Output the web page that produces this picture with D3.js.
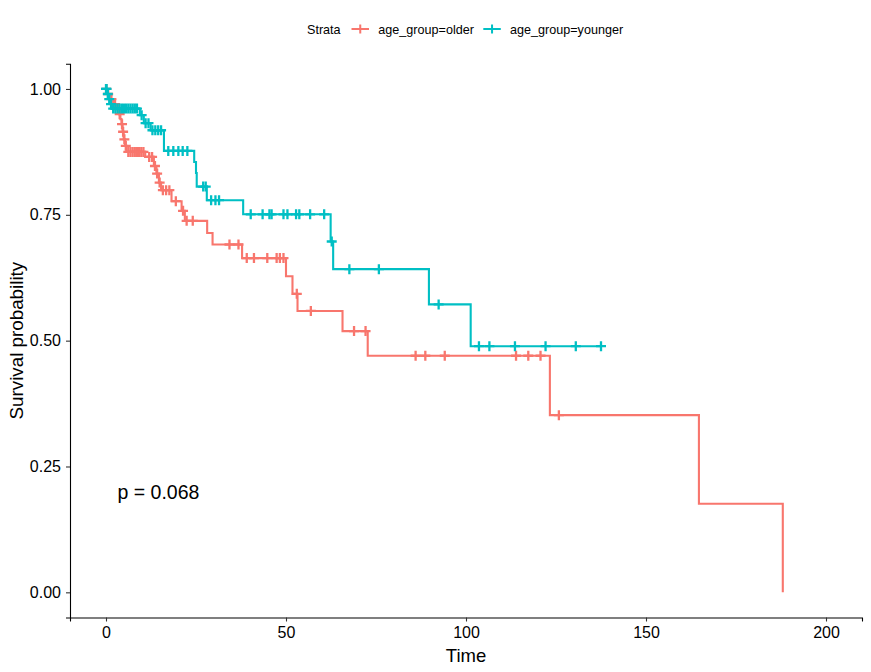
<!DOCTYPE html>
<html>
<head>
<meta charset="utf-8">
<script src="https://cdn.jsdelivr.net/npm/d3@7"></script>
<style>
  body { margin: 0; background: #fff; }
  text { font-family: "Liberation Sans", Arial, sans-serif; }
</style>
</head>
<body>
<div id="chart"></div>
<script>
// Curva older (rojo)
const olderTimes = [0, 0.3, 1.0, 2.0, 3.0, 3.6, 4.0, 4.3, 4.6, 4.9, 5.3, 5.7, 10.9, 13.3, 14.0, 14.7, 15.3, 18.2, 21.0, 21.9, 28.1, 29.6, 37.8, 50.0, 51.8, 53.2, 65.7, 72.7, 123.3, 164.7, 188.0];
const olderSurv = [1, 0.99, 0.98, 0.97, 0.96, 0.95, 0.94, 0.93, 0.915, 0.90, 0.887, 0.875, 0.865, 0.847, 0.832, 0.814, 0.799, 0.777, 0.758, 0.738, 0.714, 0.691, 0.664, 0.628, 0.593, 0.559, 0.519, 0.470, 0.352, 0.176, 0];
const olderCensor = [0.1, 0.6, 1.5, 2.5, 3.3, 3.8, 4.45, 4.75, 5.1, 5.5, 6.2, 6.8, 7.4, 8.0, 8.6, 9.2, 9.8, 10.4, 12.0, 12.8, 13.6, 14.2, 14.9, 15.8, 16.7, 17.6, 19.4, 21.4, 22.4, 24.1, 34.3, 36.8, 39.1, 41.1, 44.8, 47.4, 48.3, 49.3, 53.0, 56.9, 68.9, 72.1, 86.0, 88.7, 94.1, 113.9, 117.3, 120.7, 125.8];

// Curva younger (turquesa)
const youngerTimes = [0, 0.3, 0.8, 1.2, 1.6, 9.4, 10.5, 12.4, 16.1, 24.5, 25.0, 25.2, 28.0, 38.1, 62.4, 63.1, 89.7, 101.3, 137.8];
const youngerSurv = [1, 0.99, 0.98, 0.97, 0.961, 0.948, 0.932, 0.918, 0.877, 0.855, 0.833, 0.806, 0.779, 0.751, 0.697, 0.642, 0.572, 0.489, 0.489];
const youngerCensor = [0, 0.15, 0.5, 0.9, 1.4, 2.0, 2.6, 3.2, 3.8, 4.4, 5.0, 5.6, 6.2, 6.8, 7.4, 8.0, 8.6, 9.9, 11.0, 11.8, 12.9, 13.7, 14.5, 15.3, 17.3, 18.7, 20.1, 21.3, 22.6, 27.0, 27.7, 29.2, 30.4, 31.4, 40.2, 43.5, 45.4, 46.0, 49.3, 50.4, 52.8, 53.7, 56.7, 60.6, 62.7, 67.6, 75.8, 92.4, 103.6, 106.5, 113.6, 122.1, 130.5, 137.5];

const strataLabels = ["age_group=older", "age_group=younger"];
const strataColors = ["#F8766D", "#00BFC4"];
const xTicks = [0, 50, 100, 150, 200];
const yTicks = [0, 0.25, 0.5, 0.75, 1];
const pValueLabel = "p = 0.068";

const width = 871, height = 672;
const svg = d3.select('#chart').append('svg')
    .attr('width', width)
    .attr('height', height);

const x = d3.scaleLinear().domain([-10, 210]).range([70, 862]);
const y = d3.scaleLinear().domain([-0.05, 1.05]).range([617.5, 63.8]);

// Ejes
const xAxis = svg.append('g')
    .attr('transform', `translate(0,${y(-0.05)})`)
    .call(d3.axisBottom(x).tickValues(xTicks).tickSize(4).tickPadding(5).tickFormat(d3.format('d')));
const yAxis = svg.append('g')
    .attr('transform', `translate(${x(-10)},0)`)
    .call(d3.axisLeft(y).tickValues(yTicks).tickSize(4).tickPadding(5).tickFormat(d3.format('.2f')));
[xAxis, yAxis].forEach(g => {
    g.select('.domain').attr('stroke', '#000').attr('stroke-width', 1.1);
    g.selectAll('.tick line').attr('stroke', '#333').attr('stroke-width', 1.1);
    g.selectAll('.tick text').attr('fill', '#000').style('font-size', '16px')
        .style('font-family', '"Liberation Sans", Arial, sans-serif');
});

// Titulos de ejes
svg.append('text')
    .attr('x', x(100)).attr('y', 662)
    .attr('text-anchor', 'middle')
    .style('font-size', '18.5px')
    .text('Time');
svg.append('text')
    .attr('transform', `translate(23,${y(0.5)}) rotate(-90)`)
    .attr('text-anchor', 'middle')
    .style('font-size', '18.8px')
    .text('Survival probability');

// Funcion escalon para buscar supervivencia en un tiempo
function survAt(times, surv, t) {
    let s = surv[0];
    for (let i = 0; i < times.length; i++) {
        if (times[i] <= t) s = surv[i];
    }
    return s;
}

const line = d3.line()
    .x(d => x(d[0]))
    .y(d => y(d[1]))
    .curve(d3.curveStepAfter);

const groups = [
    { times: olderTimes, surv: olderSurv, censor: olderCensor },
    { times: youngerTimes, surv: youngerSurv, censor: youngerCensor }
];

groups.forEach((g, i) => {
    const color = strataColors[i];
    svg.append('path')
        .datum(g.times.map((t, j) => [t, g.surv[j]]))
        .attr('d', line)
        .attr('fill', 'none')
        .attr('stroke', color)
        .attr('stroke-width', 2.1);

    // Marcas de censura
    svg.append('g').selectAll('path')
        .data(g.censor)
        .enter().append('path')
        .attr('transform', t => `translate(${x(t)},${y(survAt(g.times, g.surv, t))})`)
        .attr('d', 'M-5,0H5M0,-5V5')
        .attr('stroke', color)
        .attr('stroke-width', 2.3);
});

// Valor p
svg.append('text')
    .attr('x', x(3.2)).attr('y', 498.5)
    .style('font-size', '19.5px')
    .text(pValueLabel);

// Leyenda
const legend = svg.append('g').style('font-size', '12.6px');
legend.append('text').attr('x', 307).attr('y', 33.5).text('Strata');
const keyX = [351.5, 483.3];
const labelX = [378.3, 510];
strataLabels.forEach((lab, i) => {
    const kx = keyX[i];
    legend.append('line')
        .attr('x1', kx).attr('x2', kx + 17.5)
        .attr('y1', 29).attr('y2', 29)
        .attr('stroke', strataColors[i]).attr('stroke-width', 2);
    legend.append('path')
        .attr('transform', `translate(${kx + 8.75},29)`)
        .attr('d', 'M-4.5,0H4.5M0,-4.5V4.5')
        .attr('stroke', strataColors[i]).attr('stroke-width', 2);
    legend.append('text').attr('x', labelX[i]).attr('y', 33.5).text(lab);
});
</script>
</body>
</html>
